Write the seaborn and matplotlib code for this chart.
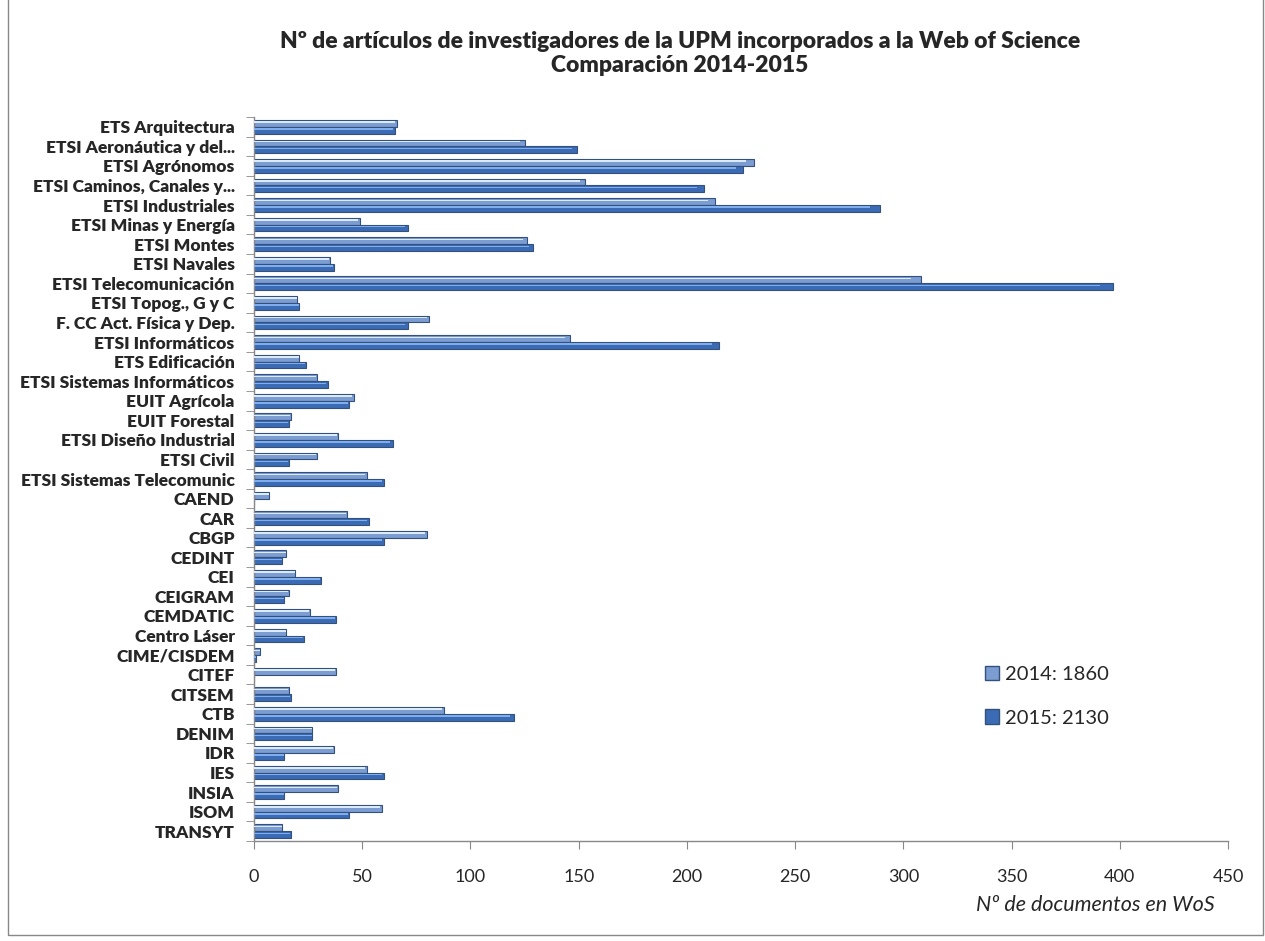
import pandas as pd
import seaborn as sns
import matplotlib.pyplot as plt
from matplotlib.patches import Rectangle
from matplotlib.ticker import FixedLocator

#%% Data
centros = ['ETS Arquitectura', 'ETSI Aeronáutica y del...', 'ETSI Agrónomos',
           'ETSI Caminos, Canales y...', 'ETSI Industriales', 'ETSI Minas y Energía',
           'ETSI Montes', 'ETSI Navales', 'ETSI Telecomunicación', 'ETSI Topog., G y C',
           'F. CC Act. Física y Dep.', 'ETSI Informáticos', 'ETS Edificación',
           'ETSI Sistemas Informáticos', 'EUIT Agrícola', 'EUIT Forestal',
           'ETSI Diseño Industrial', 'ETSI Civil', 'ETSI Sistemas Telecomunic',
           'CAEND', 'CAR', 'CBGP', 'CEDINT', 'CEI', 'CEIGRAM', 'CEMDATIC',
           'Centro Láser', 'CIME/CISDEM', 'CITEF', 'CITSEM', 'CTB', 'DENIM',
           'IDR', 'IES', 'INSIA', 'ISOM', 'TRANSYT']

docs_2014 = [66, 125, 231, 153, 213, 49, 126, 35, 308, 20,
             81, 146, 21, 29, 46, 17, 39, 29, 52,
             7, 43, 80, 15, 19, 16, 26, 15, 3, 38, 16, 88, 27,
             37, 52, 39, 59, 13]

docs_2015 = [65, 149, 226, 208, 289, 71, 129, 37, 397, 21,
             71, 215, 24, 34, 44, 16, 64, 16, 60,
             0, 53, 60, 13, 31, 14, 38, 23, 1, 0, 17, 120, 27,
             14, 60, 14, 44, 17]

years = ['2014', '2015']
totals = [1860, 2130]

df = pd.DataFrame({'Centro': centros * 2,
                   'Año': [years[0]] * len(centros) + [years[1]] * len(centros),
                   'Documentos': docs_2014 + docs_2015})

#%% Plot
sns.set_style('white')
plt.rcParams['font.family'] = ['Lato', 'DejaVu Sans']

fig = plt.figure(figsize=(12.65, 9.41), dpi=100)
ax = fig.add_axes([254 / 1265, 1 - 841 / 941, (1228 - 254) / 1265, (841 - 117) / 941])

body = {'2014': '#7C9DD2', '2015': '#3B6BB5'}
light = {'2014': '#DCEBFC', '2015': '#7FAEEE'}

sns.barplot(data=df, y='Centro', x='Documentos', hue='Año', orient='h',
            palette=body, width=0.7, edgecolor='#34507C', linewidth=0.8,
            saturation=1, ax=ax, legend=False)

# Excel-like glossy highlight on each bar
for cont, yr in zip(ax.containers, years):
    for p in cont.patches:
        w = p.get_width()
        if w <= 0:
            continue
        h = p.get_height()
        ax.add_patch(Rectangle((0, p.get_y() + h * 0.2), w * 0.985, h * 0.22,
                               facecolor=light[yr], edgecolor='none', zorder=3))

ax.set_xlim(0, 450)
ax.set_xticks(range(0, 451, 50))
ax.set_ylim(len(centros) - 0.5, -0.5)
ax.yaxis.set_minor_locator(FixedLocator([i - 0.5 for i in range(len(centros) + 1)]))
ax.tick_params(axis='y', which='major', length=0, pad=14, labelsize=12.5)
ax.tick_params(axis='y', which='minor', length=6, color='#888888', left=True)
ax.tick_params(axis='x', length=6, color='#888888', bottom=True, pad=14, labelsize=13)
for lab in ax.get_yticklabels():
    lab.set_fontweight('heavy')

for s in ['top', 'right']:
    ax.spines[s].set_visible(False)
for s in ['left', 'bottom']:
    ax.spines[s].set_color('#888888')
    ax.spines[s].set_linewidth(1)

ax.set_ylabel('')
ax.set_xlabel('')

fig.text(1215 / 1265, 1 - 905 / 941, 'Nº de documentos en WoS', ha='right', va='center',
         fontsize=15.5, style='italic')
fig.text(680 / 1265, 1 - 41 / 941, 'Nº de artículos de investigadores de la UPM incorporados a la Web of Science',
         ha='center', va='center', fontsize=16.5, fontweight='heavy')
fig.text(680 / 1265, 1 - 65 / 941, 'Comparación 2014-2015',
         ha='center', va='center', fontsize=16.5, fontweight='heavy')

# legend
handles = [Rectangle((0, 0), 1, 1, facecolor=body[y], edgecolor='#34507C') for y in years]
labels = [f'{y}: {t}' for y, t in zip(years, totals)]
fig.legend(handles, labels, loc='upper left', bbox_to_anchor=(967 / 1265, 1 - 648 / 941),
           frameon=False, fontsize=14.5, handlelength=0.7, handleheight=0.7,
           handletextpad=0.3, labelspacing=1.3)

# outer chart border
fig.patches.append(Rectangle((8 / 1265, 1 - 935 / 941), 1255 / 1265, 935 / 941 + 0.01,
                             transform=fig.transFigure, fill=False,
                             edgecolor='#888888', linewidth=1))

fig.savefig('out.png', dpi=100)
